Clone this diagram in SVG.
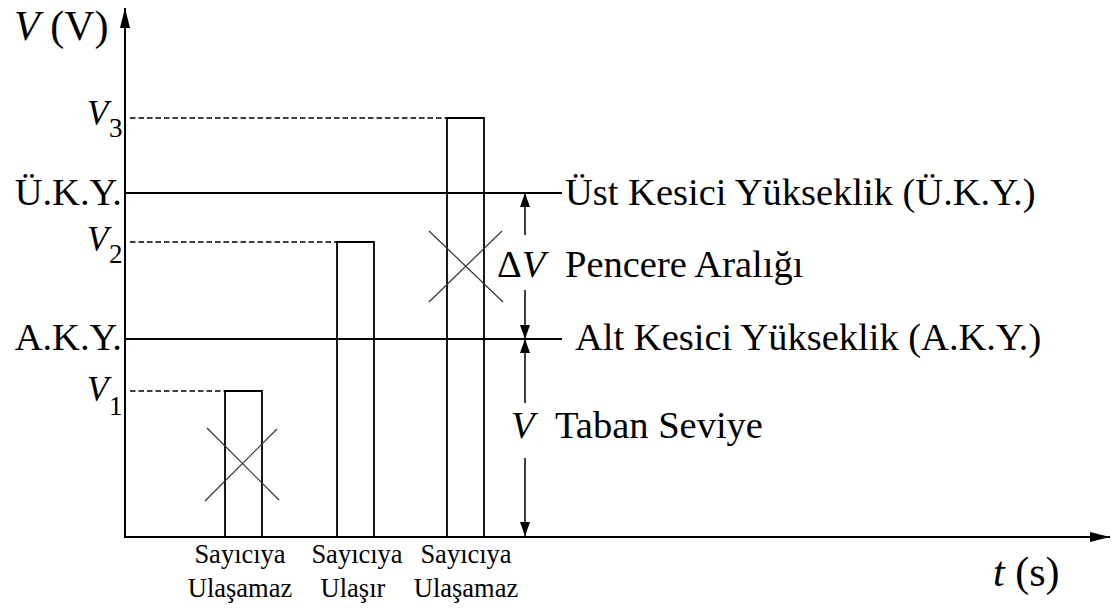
<svg xmlns="http://www.w3.org/2000/svg" width="1117" height="608" viewBox="0 0 1117 608" font-family="'Liberation Serif', Tinos, 'DejaVu Serif', 'Times New Roman', serif">
<defs>
<marker id="ah" viewBox="0 0 20 10" refX="20" refY="5" markerWidth="20" markerHeight="10" markerUnits="userSpaceOnUse" orient="auto"><path d="M0,0 L20,5 L0,10 Z" fill="#000"/></marker>
<marker id="dh" viewBox="0 0 14 10" refX="14" refY="5" markerWidth="14" markerHeight="10" markerUnits="userSpaceOnUse" orient="auto"><path d="M0,0 L14,5 L0,10 Z" fill="#000"/></marker>
</defs>
<style>
text{fill:#000}
.big{font-size:38.5px}
.axl{font-size:42px}
.vl{font-size:35px}
.sub{font-size:27px}
.sm{font-size:26.5px}
.it{font-style:italic}
.ax{stroke:#000;stroke-width:2;fill:none}
.ln{stroke:#000;stroke-width:1.8;fill:none}
.dash{stroke:#000;stroke-width:1.5;stroke-dasharray:5.5 3;fill:none}
.x{stroke:#333;stroke-width:1.2;fill:none}
.dim{stroke:#000;stroke-width:1.5;fill:none}
</style>
<g id="axes">
<line class="ax" x1="125" y1="537" x2="125" y2="8" marker-end="url(#ah)"/>
<line class="ax" x1="124" y1="537" x2="1110" y2="537" marker-end="url(#ah)"/>
<text class="axl" x="14" y="40"><tspan class="it">V</tspan> (V)</text>
<text class="axl" x="993" y="586"><tspan class="it">t</tspan> (s)</text>
</g>
<g id="levels">
<line class="ln" x1="125" y1="193" x2="562" y2="193"/>
<line class="ln" x1="125" y1="339" x2="562" y2="339"/>
<text class="big" x="122" y="205" text-anchor="end">Ü.K.Y.</text>
<text class="big" x="122" y="350" text-anchor="end">A.K.Y.</text>
<text class="big" x="565" y="205">Üst Kesici Yükseklik (Ü.K.Y.)</text>
<text class="big" x="575" y="350">Alt Kesici Yükseklik (A.K.Y.)</text>
</g>
<g id="pulse1">
<line class="dash" x1="130" y1="391" x2="225" y2="391"/>
<polyline class="ln" points="225,537 225,391 262,391 262,537"/>
<line class="x" x1="207" y1="428" x2="279" y2="500"/>
<line class="x" x1="205" y1="501" x2="277" y2="429"/>
<text class="vl it" x="87" y="401">V</text><text class="sub" x="109" y="415">1</text>
<text class="sm" x="240" y="563" text-anchor="middle">Sayıcıya</text>
<text class="sm" x="240" y="597" text-anchor="middle">Ulaşamaz</text>
</g>
<g id="pulse2">
<line class="dash" x1="130" y1="242" x2="337" y2="242"/>
<polyline class="ln" points="337,537 337,242 374,242 374,537"/>
<text class="vl it" x="87" y="251">V</text><text class="sub" x="109" y="263">2</text>
<text class="sm" x="357" y="563" text-anchor="middle">Sayıcıya</text>
<text class="sm" x="353" y="597" text-anchor="middle">Ulaşır</text>
</g>
<g id="pulse3">
<line class="dash" x1="130" y1="118" x2="447" y2="118"/>
<polyline class="ln" points="447,537 447,118 484,118 484,537"/>
<line class="x" x1="429" y1="231" x2="503" y2="302"/>
<line class="x" x1="429" y1="302" x2="502" y2="231"/>
<text class="vl it" x="87" y="125">V</text><text class="sub" x="109" y="137">3</text>
<text class="sm" x="466" y="563" text-anchor="middle">Sayıcıya</text>
<text class="sm" x="466" y="597" text-anchor="middle">Ulaşamaz</text>
</g>
<g id="connectors">
<line class="dim" x1="525" y1="235" x2="525" y2="193" marker-end="url(#dh)"/>
<line class="dim" x1="525" y1="290" x2="525" y2="339" marker-end="url(#dh)"/>
<line class="dim" x1="525" y1="403" x2="525" y2="339" marker-end="url(#dh)"/>
<line class="dim" x1="525" y1="458" x2="525" y2="536" marker-end="url(#dh)"/>
</g>
<g id="dim-labels">
<text class="big" x="497" y="277">Δ<tspan class="it">V</tspan></text>
<text class="big" x="565" y="277">Pencere Aralığı</text>
<text class="big it" x="511" y="438">V</text>
<text class="big" x="555" y="438">Taban Seviye</text>
</g>
</svg>
